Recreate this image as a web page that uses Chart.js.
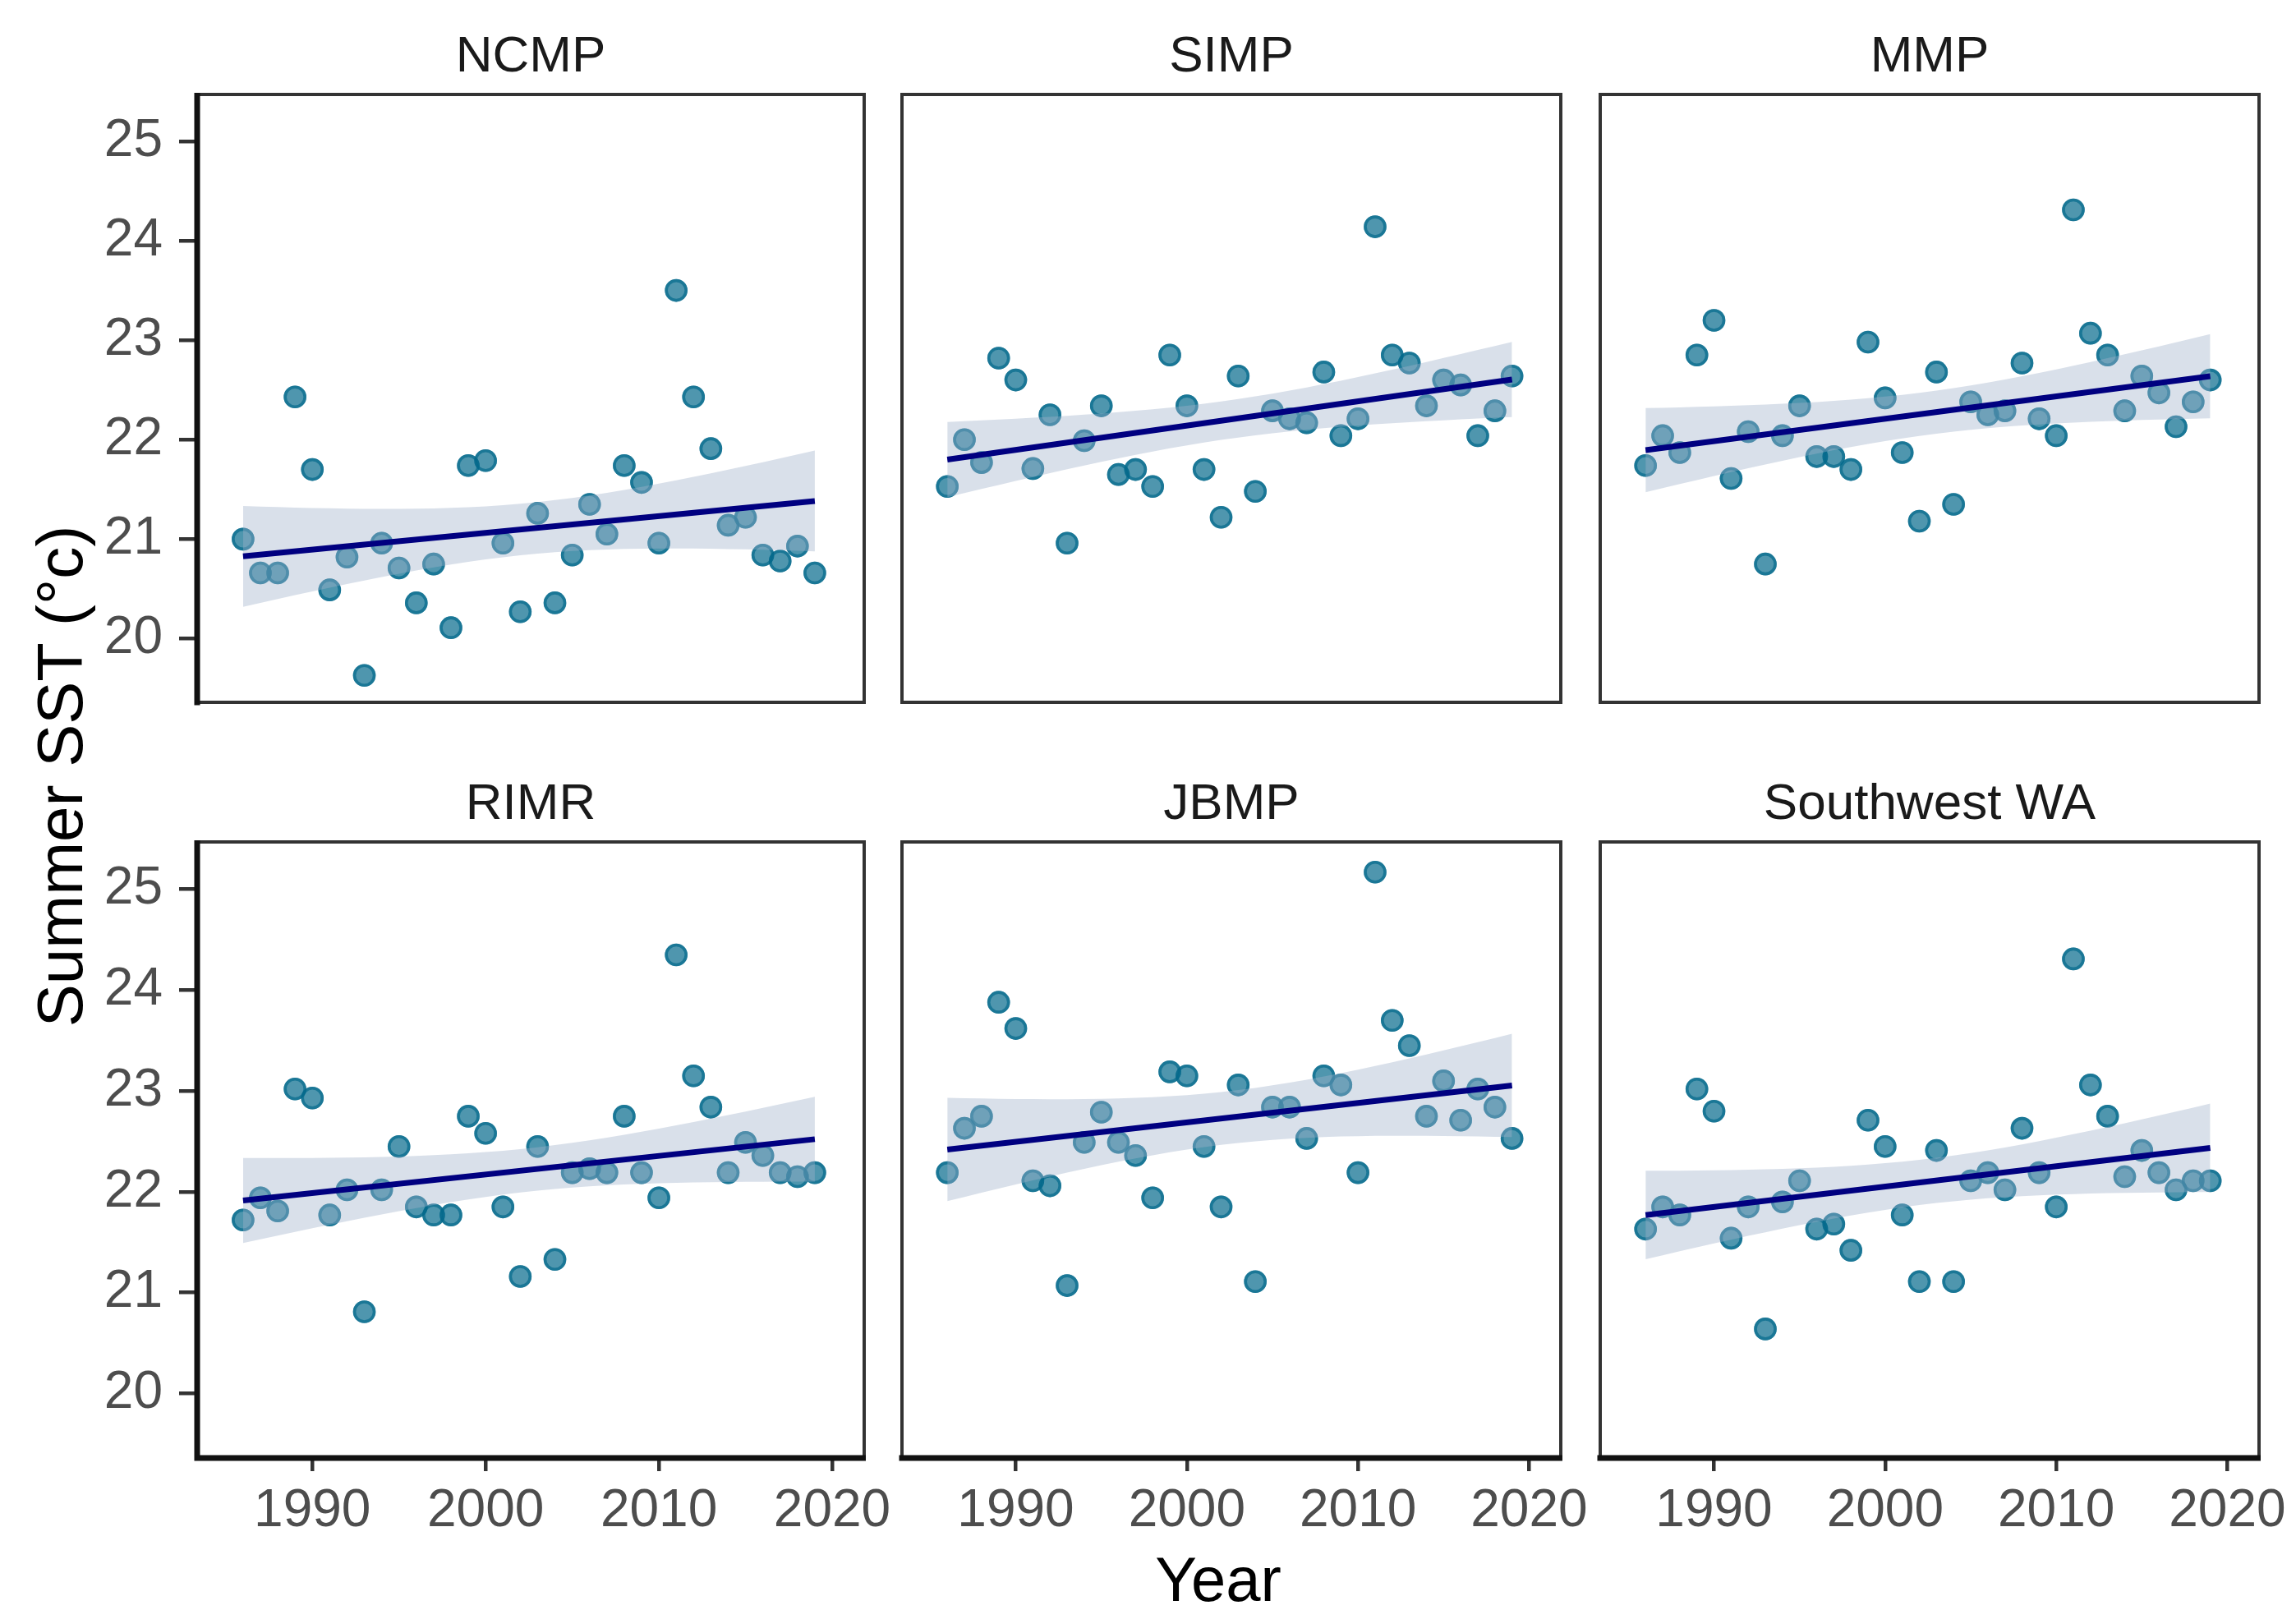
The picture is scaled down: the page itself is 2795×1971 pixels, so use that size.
<!DOCTYPE html>
<html>
<head>
<meta charset="utf-8">
<script src="https://cdn.jsdelivr.net/npm/chart.js@4.4.1/dist/chart.umd.min.js"></script>
<style>
  body { margin: 0; background: #fff; }
  #wrap { position: relative; width: 2795px; height: 1971px; font-family: "Liberation Sans", Arial, sans-serif; }
  .panel { position: absolute; }
  #ytitle { position: absolute; left: 73px; top: 945px; transform: translate(-50%, -50%) rotate(-90deg);
            font-size: 78px; line-height: 1; color: #000; white-space: nowrap; }
  #xtitle { position: absolute; left: 1483px; top: 1923px; transform: translate(-50%, -50%);
            font-size: 76px; line-height: 1; color: #000; white-space: nowrap; }
</style>
</head>
<body>
<div id="wrap">
  <div id="ytitle">Summer SST (°c)</div>
  <div id="xtitle">Year</div>
</div>
<script>
// Datos (temperatura de verano por año)
const years = [1986,1987,1988,1989,1990,1991,1992,1993,1994,1995,1996,1997,1998,1999,2000,2001,2002,
               2003,2004,2005,2006,2007,2008,2009,2010,2011,2012,2013,2014,2015,2016,2017,2018,2019];
const ncmp = [21.00,20.66,20.66,22.43,21.70,20.49,20.82,19.63,20.96,20.71,20.36,20.75,20.11,21.74,21.79,20.96,20.27,
              21.26,20.36,20.84,21.35,21.05,21.74,21.57,20.96,23.50,22.43,21.91,21.14,21.22,20.84,20.78,20.93,20.66];
const simp = [21.53,22.00,21.77,22.82,22.60,21.71,22.25,20.96,21.99,22.34,21.65,21.70,21.53,22.85,22.34,21.70,21.22,
              22.64,21.48,22.29,22.21,22.17,22.68,22.04,22.21,24.14,22.85,22.77,22.34,22.60,22.55,22.04,22.29,22.64];
const mmp = [21.74,22.04,21.87,22.85,23.20,21.61,22.08,20.75,22.04,22.34,21.83,21.83,21.70,22.98,22.42,21.87,21.18,
             22.68,21.35,22.38,22.25,22.29,22.77,22.21,22.04,24.31,23.07,22.85,22.29,22.64,22.47,22.13,22.38,22.60];
const rimr = [21.72,21.94,21.81,23.02,22.93,21.77,22.02,20.81,22.02,22.45,21.85,21.77,21.77,22.75,22.58,21.85,21.16,
              22.45,21.33,22.19,22.23,22.19,22.75,22.19,21.94,24.35,23.15,22.84,22.19,22.49,22.36,22.19,22.15,22.19];
const jbmp = [22.19,22.63,22.75,23.88,23.62,22.11,22.06,21.07,22.49,22.79,22.49,22.36,21.94,23.19,23.15,22.45,21.85,
              23.06,21.11,22.84,22.84,22.53,23.15,23.06,22.19,25.17,23.70,23.45,22.75,23.10,22.71,23.02,22.84,22.53];
const swwa = [21.63,21.85,21.77,23.02,22.80,21.54,21.85,20.64,21.90,22.11,21.63,21.68,21.42,22.71,22.45,21.77,21.11,
              22.41,21.11,22.11,22.19,22.02,22.63,22.19,21.85,24.31,23.06,22.75,22.15,22.41,22.19,22.02,22.11,22.11];

const panelNames = ['NCMP', 'SIMP', 'MMP', 'RIMR', 'JBMP', 'Southwest WA'];
const panelSeries = [ncmp, simp, mmp, rimr, jbmp, swwa];
const yTicks = [20, 21, 22, 23, 24, 25];
const xTicks = [1990, 2000, 2010, 2020];

// Posiciones de los paneles
const colLeft = [240, 1088, 1938];
const rowTop = [115, 1025];
const panelW = 812, panelH = 750;
const TCRIT = 2.037; // t(0.975, n-2)
const FONT = '"Liberation Sans", Arial, sans-serif';

// Ajuste lineal con intervalo de confianza 95%
function linFit(xs, ys) {
    const n = xs.length;
    const mx = xs.reduce((a, b) => a + b, 0) / n;
    const my = ys.reduce((a, b) => a + b, 0) / n;
    let sxx = 0, sxy = 0;
    for (let i = 0; i < n; i++) { sxx += (xs[i] - mx) ** 2; sxy += (xs[i] - mx) * (ys[i] - my); }
    const b = sxy / sxx, a = my - b * mx;
    let sse = 0;
    for (let i = 0; i < n; i++) sse += (ys[i] - a - b * xs[i]) ** 2;
    const s = Math.sqrt(sse / (n - 2));
    return xs.map(x => {
        const fit = a + b * x;
        const se = s * Math.sqrt(1 / n + (x - mx) ** 2 / sxx);
        return { x: x, fit: fit, lo: fit - TCRIT * se, hi: fit + TCRIT * se };
    });
}

// Borde del panel y título de la faceta
const panelPlugin = {
    id: 'panelDeco',
    afterDraw(chart, args, opts) {
        const c = chart.ctx, ca = chart.chartArea;
        c.save();
        c.strokeStyle = '#333333';
        c.lineWidth = 4;
        c.strokeRect(ca.left, ca.top, ca.right - ca.left, ca.bottom - ca.top);
        c.strokeStyle = '#111111';
        c.lineWidth = 7;
        c.beginPath();
        if (opts.leftAxis) { c.moveTo(ca.left, ca.top - 2); c.lineTo(ca.left, ca.bottom + 3.5); }
        if (opts.bottomAxis) { c.moveTo(ca.left - 3.5, ca.bottom); c.lineTo(ca.right + 2, ca.bottom); }
        c.stroke();
        c.fillStyle = '#1a1a1a';
        c.font = '62px ' + FONT;
        c.textAlign = 'center';
        c.textBaseline = 'alphabetic';
        c.fillText(opts.name, (ca.left + ca.right) / 2, ca.top - 28);
        c.restore();
    }
};

const noPad = s => { s.paddingTop = 0; s.paddingBottom = 0; s.paddingLeft = 0; s.paddingRight = 0; };

const wrap = document.getElementById('wrap');
const tickFont = { family: FONT, size: 64 };
const pointColor = 'rgba(4,106,139,0.7)';

panelNames.forEach((name, i) => {
    const col = i % 3, row = Math.floor(i / 3);
    const padL = col === 0 ? 240 : 10;
    const padT = 115, padR = 60;
    const padB = row === 1 ? 150 : 10;
    const w = panelW + padL + padR, h = panelH + padT + padB;

    const div = document.createElement('div');
    div.className = 'panel';
    div.style.left = (colLeft[col] - padL) + 'px';
    div.style.top = (rowTop[row] - padT) + 'px';
    div.style.width = w + 'px';
    div.style.height = h + 'px';
    const canvas = document.createElement('canvas');
    canvas.width = w; canvas.height = h;
    div.appendChild(canvas);
    wrap.appendChild(div);

    const vals = panelSeries[i];
    const pts = years.map((y, k) => ({ x: y, y: vals[k] }));
    const fit = linFit(years, vals);

    new Chart(canvas.getContext('2d'), {
        type: 'scatter',
        data: {
            datasets: [
                {   // relleno del punto
                    data: pts,
                    pointRadius: 13.8,
                    pointBorderWidth: 0,
                    pointBackgroundColor: pointColor,
                    pointBorderColor: 'rgba(0,0,0,0)',
                    order: 11
                },
                {   // contorno del punto
                    data: pts,
                    pointRadius: 12,
                    pointBorderWidth: 3.6,
                    pointBackgroundColor: 'rgba(0,0,0,0)',
                    pointBorderColor: pointColor,
                    order: 10
                },
                {
                    type: 'line',
                    data: [fit[0], fit[fit.length - 1]].map(p => ({ x: p.x, y: p.fit })),
                    borderColor: '#000080',
                    borderWidth: 7,
                    pointRadius: 0,
                    fill: false,
                    order: 0
                },
                {
                    type: 'line',
                    data: fit.map(p => ({ x: p.x, y: p.hi })),
                    borderWidth: 0,
                    borderColor: 'rgba(0,0,0,0)',
                    pointRadius: 0,
                    fill: '+1',
                    backgroundColor: 'rgba(160,178,202,0.4)',
                    order: 5
                },
                {
                    type: 'line',
                    data: fit.map(p => ({ x: p.x, y: p.lo })),
                    borderWidth: 0,
                    borderColor: 'rgba(0,0,0,0)',
                    pointRadius: 0,
                    fill: false,
                    order: 6
                }
            ]
        },
        options: {
            responsive: false,
            animation: false,
            devicePixelRatio: 1,
            layout: {
                autoPadding: false,
                padding: { top: padT, right: padR, bottom: row === 1 ? 0 : padB, left: col === 0 ? 0 : padL }
            },
            plugins: {
                legend: { display: false },
                tooltip: { enabled: false },
                panelDeco: { name: name, leftAxis: col === 0, bottomAxis: row === 1 }
            },
            scales: {
                x: {
                    type: 'linear',
                    min: 1983.35,
                    max: 2021.85,
                    display: row === 1,
                    afterBuildTicks: s => { s.ticks = xTicks.map(v => ({ value: v })); },
                    afterFit: s => { s.height = padB; noPad(s); },
                    border: { display: false },
                    grid: { drawOnChartArea: false, drawTicks: true, tickLength: 16, color: '#333333', lineWidth: 4.5 },
                    ticks: { font: tickFont, color: '#4d4d4d', padding: 11, maxRotation: 0, callback: v => String(v) }
                },
                y: {
                    min: 19.36,
                    max: 25.47,
                    display: col === 0,
                    afterBuildTicks: s => { s.ticks = yTicks.map(v => ({ value: v })); },
                    afterFit: s => { s.width = padL; noPad(s); },
                    border: { display: false },
                    grid: { drawOnChartArea: false, drawTicks: true, tickLength: 22, color: '#333333', lineWidth: 4.5 },
                    ticks: { font: tickFont, color: '#4d4d4d', padding: 20, callback: v => String(v) }
                }
            }
        },
        plugins: [panelPlugin]
    });
});
</script>
</body>
</html>
